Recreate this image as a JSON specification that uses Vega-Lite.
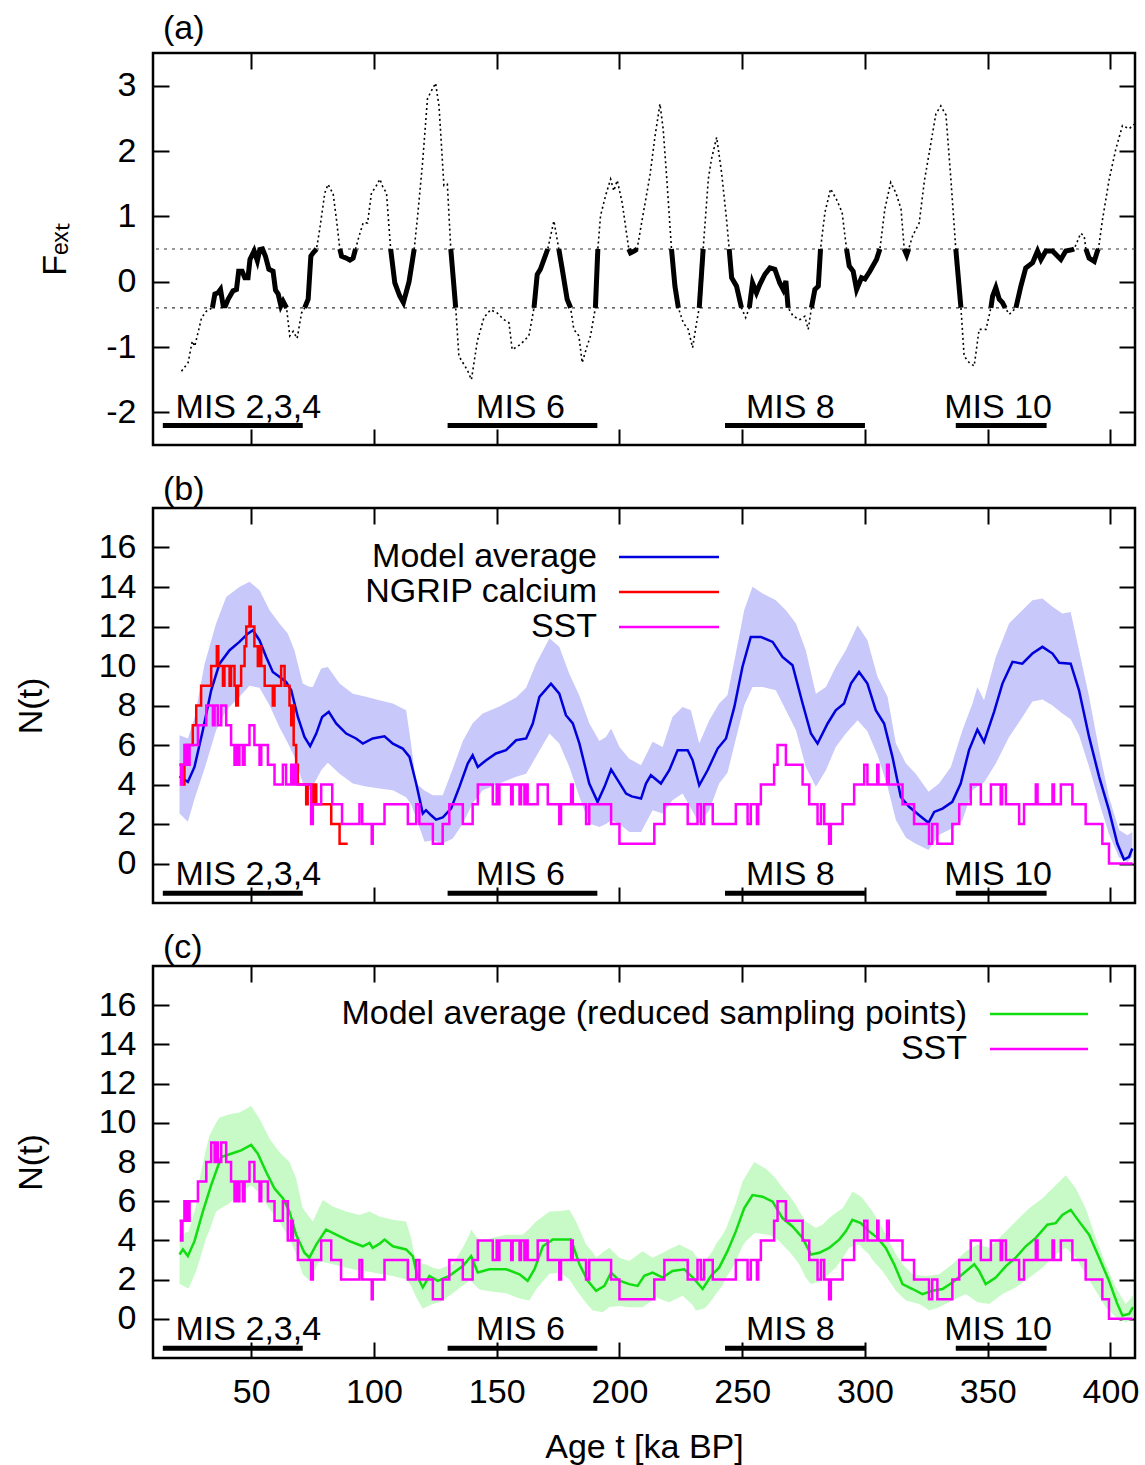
{
"$schema": "https://vega.github.io/schema/vega-lite/v6.json",
"padding": {"left": 12, "top": 10, "right": 5, "bottom": 0},
"background": "white",
"bounds": "flush",
"spacing": 63,
"config": {
  "font": "Liberation Sans",
  "view": {"stroke": "black", "strokeWidth": 2.5},
  "axis": {"domain": false, "grid": false, "tickSize": -16, "tickWidth": 2, "tickColor": "black", "labelFontSize": 34, "labelColor": "black", "titleFontSize": 34, "titleFontWeight": "normal", "titleColor": "black", "labelPadding": 33, "labelFont": "Liberation Sans", "titleFont": "Liberation Sans"},
  "title": {"fontSize": 34, "fontWeight": "normal", "anchor": "start", "frame": "group", "color": "black", "font": "Liberation Sans"},
  "text": {"font": "Liberation Sans"}
},
"datasets": {
  "levels": [{"lev": 0.5}, {"lev": -0.4}],
  "mis": [
    {"label": "MIS 2,3,4", "start": 14, "end": 71, "lx": 19.2},
    {"label": "MIS 6", "start": 130, "end": 191, "lx": 141.6},
    {"label": "MIS 8", "start": 243, "end": 300, "lx": 251.5},
    {"label": "MIS 10", "start": 337, "end": 374, "lx": 332.3}
  ],
  "fext": [
    {"t":21.6,"F":-1.37},{"t":24.3,"F":-1.24},{"t":26.0,"F":-0.91},{"t":27.0,"F":-0.99},{"t":29.8,"F":-0.55},{"t":31.8,"F":-0.45},
    {"t":34.2,"F":-0.40,"seg":1},{"t":35.2,"F":-0.19,"seg":1},{"t":36.5,"F":-0.17,"seg":1},{"t":37.5,"F":-0.12,"seg":1},{"t":38.6,"F":-0.37,"seg":1},{"t":39.5,"F":-0.37,"seg":1},{"t":40.6,"F":-0.27,"seg":1},{"t":42.6,"F":-0.14,"seg":1},{"t":44.0,"F":-0.12,"seg":1},{"t":44.9,"F":0.16,"seg":1},{"t":46.3,"F":0.16,"seg":1},{"t":47.4,"F":0.06,"seg":1},{"t":48.7,"F":0.06,"seg":1},{"t":49.5,"F":0.34,"seg":1},{"t":51.2,"F":0.47,"seg":1},{"t":52.5,"F":0.32,"seg":1},{"t":53.5,"F":0.49,"seg":1},{"t":54.6,"F":0.50,"seg":1},{"t":55.8,"F":0.39,"seg":1},{"t":57.2,"F":0.19,"seg":1},{"t":58.9,"F":0.16,"seg":1},{"t":59.9,"F":-0.13,"seg":1},{"t":61.0,"F":-0.19,"seg":1},{"t":62.1,"F":-0.37,"seg":1},{"t":63.0,"F":-0.30,"seg":1},{"t":64.4,"F":-0.40,"seg":1},
    {"t":65.7,"F":-0.83},{"t":67.1,"F":-0.76},{"t":68.7,"F":-0.87},{"t":70.5,"F":-0.48},
    {"t":71.8,"F":-0.40,"seg":2},{"t":73.2,"F":-0.27,"seg":2},{"t":74.3,"F":0.39,"seg":2},{"t":75.2,"F":0.44,"seg":2},{"t":76.6,"F":0.50,"seg":2},
    {"t":77.9,"F":0.80},{"t":80.0,"F":1.36},{"t":81.3,"F":1.49},{"t":83.4,"F":1.34},{"t":84.7,"F":0.96},
    {"t":86.1,"F":0.50,"seg":3},{"t":86.8,"F":0.39,"seg":3},{"t":88.8,"F":0.36,"seg":3},{"t":90.2,"F":0.33,"seg":3},{"t":91.5,"F":0.36,"seg":3},{"t":92.5,"F":0.50,"seg":3},
    {"t":94.2,"F":0.73},{"t":95.6,"F":0.90},{"t":97.4,"F":0.90},{"t":99.0,"F":1.36},{"t":100.6,"F":1.44},{"t":102.4,"F":1.57},{"t":103.7,"F":1.44},{"t":105.1,"F":1.36},
    {"t":106.8,"F":0.50,"seg":4},{"t":108.5,"F":-0.02,"seg":4},{"t":110.5,"F":-0.22,"seg":4},{"t":112.0,"F":-0.32,"seg":4},{"t":114.3,"F":0.0,"seg":4},{"t":116.4,"F":0.50,"seg":4},
    {"t":117.8,"F":1.01},{"t":119.8,"F":1.82},{"t":121.8,"F":2.80},{"t":123.1,"F":2.90},{"t":125.1,"F":3.04},{"t":126.5,"F":2.69},{"t":128.5,"F":1.47},{"t":129.9,"F":1.49},
    {"t":131.3,"F":0.50,"seg":5},{"t":133.3,"F":-0.40,"seg":5},
    {"t":134.6,"F":-1.14},{"t":138.0,"F":-1.35},{"t":139.7,"F":-1.50},{"t":142.1,"F":-0.91},{"t":144.8,"F":-0.55},{"t":147.5,"F":-0.43},{"t":150.2,"F":-0.48},{"t":152.9,"F":-0.58},{"t":155.0,"F":-0.63},{"t":156.3,"F":-1.04},{"t":159.7,"F":-0.96},{"t":163.1,"F":-0.83},
    {"t":165.2,"F":-0.40,"seg":6},{"t":166.5,"F":0.11,"seg":6},{"t":167.8,"F":0.19,"seg":6},{"t":170.8,"F":0.50,"seg":6},
    {"t":173.3,"F":0.93},
    {"t":175.3,"F":0.50,"seg":7},{"t":176.7,"F":0.19,"seg":7},{"t":178.7,"F":-0.27,"seg":7},{"t":180.1,"F":-0.40,"seg":7},
    {"t":181.4,"F":-0.73},{"t":183.5,"F":-0.83},{"t":184.8,"F":-1.24},{"t":186.8,"F":-0.99},{"t":188.2,"F":-0.83},
    {"t":190.2,"F":-0.40,"seg":8},{"t":191.2,"F":0.50,"seg":8},
    {"t":192.3,"F":1.01},{"t":194.3,"F":1.31},{"t":196.4,"F":1.57},{"t":197.7,"F":1.39},{"t":199.1,"F":1.55},{"t":201.1,"F":1.21},
    {"t":203.8,"F":0.50,"seg":9},{"t":204.5,"F":0.44,"seg":9},{"t":206.1,"F":0.47,"seg":9},{"t":207.2,"F":0.50,"seg":9},
    {"t":209.3,"F":0.96},{"t":212.4,"F":1.62},{"t":214.5,"F":2.23},{"t":216.5,"F":2.72},{"t":217.8,"F":2.34},{"t":219.2,"F":1.62},
    {"t":221.2,"F":0.50,"seg":10},{"t":222.6,"F":-0.07,"seg":10},{"t":224.0,"F":-0.40,"seg":10},
    {"t":226.0,"F":-0.63},{"t":228.0,"F":-0.73},{"t":229.8,"F":-1.01},{"t":231.4,"F":-0.63},
    {"t":232.5,"F":-0.40,"seg":11},{"t":234.1,"F":0.50,"seg":11},
    {"t":236.2,"F":1.57},{"t":237.5,"F":1.88},{"t":239.6,"F":2.21},{"t":241.6,"F":1.67},{"t":243.6,"F":0.96},
    {"t":244.7,"F":0.50,"seg":12},{"t":245.7,"F":0.06,"seg":12},{"t":247.7,"F":-0.07,"seg":12},{"t":249.7,"F":-0.40,"seg":12},
    {"t":251.4,"F":-0.55},
    {"t":252.9,"F":-0.40,"seg":13},{"t":254.2,"F":-0.02,"seg":13},{"t":255.8,"F":-0.17,"seg":13},{"t":257.2,"F":-0.04,"seg":13},{"t":259.2,"F":0.11,"seg":13},{"t":261.3,"F":0.21,"seg":13},{"t":263.3,"F":0.19,"seg":13},{"t":265.3,"F":-0.02,"seg":13},{"t":266.7,"F":-0.12,"seg":13},{"t":267.8,"F":0.01,"seg":13},{"t":268.7,"F":-0.40,"seg":13},
    {"t":270.8,"F":-0.53},{"t":273.5,"F":-0.58},{"t":275.5,"F":-0.53},{"t":276.9,"F":-0.73},
    {"t":278.2,"F":-0.40,"seg":14},{"t":279.6,"F":-0.12,"seg":14},{"t":281.0,"F":-0.07,"seg":14},{"t":281.9,"F":0.50,"seg":14},
    {"t":283.7,"F":1.06},{"t":286.0,"F":1.42},{"t":288.4,"F":1.26},{"t":290.7,"F":1.06},
    {"t":292.5,"F":0.50,"seg":15},{"t":293.6,"F":0.24,"seg":15},{"t":295.2,"F":0.16,"seg":15},{"t":296.6,"F":-0.12,"seg":15},{"t":298.6,"F":0.06,"seg":15},{"t":300.0,"F":0.04,"seg":15},{"t":302.0,"F":0.16,"seg":15},{"t":304.7,"F":0.34,"seg":15},{"t":306.1,"F":0.50,"seg":15},
    {"t":308.1,"F":1.11},{"t":310.5,"F":1.52},{"t":312.6,"F":1.36},{"t":314.7,"F":1.11},
    {"t":316.0,"F":0.50,"seg":16},{"t":317.0,"F":0.41,"seg":16},{"t":317.8,"F":0.50,"seg":16},
    {"t":319.4,"F":0.70},{"t":322.1,"F":0.90},{"t":324.2,"F":1.54},{"t":326.9,"F":2.13},{"t":328.9,"F":2.57},{"t":330.9,"F":2.69},{"t":333.0,"F":2.55},{"t":335.0,"F":1.57},
    {"t":337.0,"F":0.50,"seg":17},{"t":339.1,"F":-0.40,"seg":17},
    {"t":340.4,"F":-1.14},{"t":342.5,"F":-1.24},{"t":344.5,"F":-1.29},{"t":346.5,"F":-0.73},{"t":349.3,"F":-0.73},
    {"t":351.3,"F":-0.40,"seg":18},{"t":352.0,"F":-0.22,"seg":18},{"t":353.3,"F":-0.09,"seg":18},{"t":354.7,"F":-0.27,"seg":18},{"t":356.0,"F":-0.32,"seg":18},{"t":357.1,"F":-0.40,"seg":18},
    {"t":358.8,"F":-0.50},
    {"t":361.5,"F":-0.40,"seg":19},{"t":363.5,"F":-0.07,"seg":19},{"t":365.5,"F":0.21,"seg":19},{"t":368.3,"F":0.29,"seg":19},{"t":370.3,"F":0.47,"seg":19},{"t":371.7,"F":0.34,"seg":19},{"t":373.7,"F":0.47,"seg":19},{"t":376.4,"F":0.47,"seg":19},{"t":379.8,"F":0.34,"seg":19},{"t":381.8,"F":0.47,"seg":19},{"t":384.5,"F":0.49,"seg":19},{"t":385.2,"F":0.50,"seg":19},
    {"t":387.9,"F":0.74},{"t":389.3,"F":0.70},
    {"t":390.0,"F":0.50,"seg":20},{"t":391.3,"F":0.36,"seg":20},{"t":393.4,"F":0.31,"seg":20},{"t":394.7,"F":0.47,"seg":20},{"t":395.1,"F":0.50,"seg":20},
    {"t":396.8,"F":0.96},{"t":399.5,"F":1.57},{"t":402.2,"F":2.03},{"t":404.9,"F":2.39},{"t":407.6,"F":2.34},{"t":409.6,"F":2.41}
  ],
  "band_b": [
    {"t":20.8,"lo":2.53,"hi":6.5},{"t":24.2,"lo":2.11,"hi":6.33},{"t":27.0,"lo":3.3,"hi":7.4},{"t":31.0,"lo":4.8,"hi":10.1},{"t":35.7,"lo":6.75,"hi":12.15},{"t":39.8,"lo":7.76,"hi":13.5},{"t":45.2,"lo":8.44,"hi":14.0},{"t":49.3,"lo":9.0,"hi":14.26},{"t":53.4,"lo":8.9,"hi":13.84},{"t":57.5,"lo":8.0,"hi":12.82},{"t":61.5,"lo":6.9,"hi":12.15},{"t":64.9,"lo":6.1,"hi":11.64},{"t":67.6,"lo":5.4,"hi":10.8},{"t":71.0,"lo":4.1,"hi":9.11},{"t":73.7,"lo":3.71,"hi":8.95},{"t":75.1,"lo":3.9,"hi":8.94},{"t":78.5,"lo":4.72,"hi":9.87},{"t":81.2,"lo":5.1,"hi":9.95},{"t":86.0,"lo":4.55,"hi":9.11},{"t":91.4,"lo":4.05,"hi":8.6},{"t":96.8,"lo":3.9,"hi":8.44},{"t":102.2,"lo":3.8,"hi":8.27},{"t":107.7,"lo":3.71,"hi":8.1},{"t":113.1,"lo":3.35,"hi":7.76},{"t":115.1,"lo":3.0,"hi":6.07},{"t":117.2,"lo":2.3,"hi":4.05},{"t":120.6,"lo":1.1,"hi":3.7},{"t":124.0,"lo":1.18,"hi":3.45},{"t":128.0,"lo":1.01,"hi":3.45},{"t":132.1,"lo":1.26,"hi":4.8},{"t":136.2,"lo":2.02,"hi":6.2},{"t":140.2,"lo":3.04,"hi":7.1},{"t":144.3,"lo":3.71,"hi":7.6},{"t":151.1,"lo":4.05,"hi":7.95},{"t":157.9,"lo":4.39,"hi":8.4},{"t":162.0,"lo":4.55,"hi":8.9},{"t":166.0,"lo":5.4,"hi":10.12},{"t":171.5,"lo":6.58,"hi":11.4},{"t":175.5,"lo":6.07,"hi":10.97},{"t":179.6,"lo":4.89,"hi":9.6},{"t":183.7,"lo":3.37,"hi":8.5},{"t":187.7,"lo":2.02,"hi":7.1},{"t":191.8,"lo":1.85,"hi":6.2},{"t":194.5,"lo":2.0,"hi":6.41},{"t":196.6,"lo":2.19,"hi":6.83},{"t":200.0,"lo":2.0,"hi":5.9},{"t":204.0,"lo":1.6,"hi":5.3},{"t":208.8,"lo":1.6,"hi":4.98},{"t":213.5,"lo":2.7,"hi":6.16},{"t":217.6,"lo":2.53,"hi":5.9},{"t":221.6,"lo":3.2,"hi":7.42},{"t":225.7,"lo":3.54,"hi":7.93},{"t":229.1,"lo":2.8,"hi":7.76},{"t":232.5,"lo":2.02,"hi":6.07},{"t":236.6,"lo":2.7,"hi":7.25},{"t":240.6,"lo":4.05,"hi":8.1},{"t":244.0,"lo":4.6,"hi":8.52},{"t":247.4,"lo":6.3,"hi":10.63},{"t":250.8,"lo":8.0,"hi":12.82},{"t":254.2,"lo":8.94,"hi":14.01},{"t":258.3,"lo":8.94,"hi":13.67},{"t":263.7,"lo":8.77,"hi":13.33},{"t":267.8,"lo":7.76,"hi":12.82},{"t":271.9,"lo":6.75,"hi":12.15},{"t":275.9,"lo":4.89,"hi":10.8},{"t":280.0,"lo":3.88,"hi":8.6},{"t":284.1,"lo":4.72,"hi":8.94},{"t":288.1,"lo":5.9,"hi":9.95},{"t":292.2,"lo":6.58,"hi":10.8},{"t":297.0,"lo":7.25,"hi":12.06},{"t":301.0,"lo":6.7,"hi":11.3},{"t":305.1,"lo":5.5,"hi":9.45},{"t":309.2,"lo":3.9,"hi":8.44},{"t":312.6,"lo":2.2,"hi":6.07},{"t":316.7,"lo":1.3,"hi":5.06},{"t":320.7,"lo":1.0,"hi":4.55},{"t":325.9,"lo":0.68,"hi":3.63},{"t":330.2,"lo":1.45,"hi":4.05},{"t":335.0,"lo":1.75,"hi":4.89},{"t":339.7,"lo":2.19,"hi":6.75},{"t":343.8,"lo":3.71,"hi":8.1},{"t":345.8,"lo":3.9,"hi":8.94},{"t":348.5,"lo":4.1,"hi":8.27},{"t":353.3,"lo":5.06,"hi":10.46},{"t":358.7,"lo":6.4,"hi":12.15},{"t":364.1,"lo":7.4,"hi":12.82},{"t":368.2,"lo":8.2,"hi":13.33},{"t":372.3,"lo":8.3,"hi":13.42},{"t":376.4,"lo":8.0,"hi":13.0},{"t":380.4,"lo":7.59,"hi":12.66},{"t":383.8,"lo":7.3,"hi":12.74},{"t":387.2,"lo":6.5,"hi":10.8},{"t":391.3,"lo":4.9,"hi":8.44},{"t":395.4,"lo":3.1,"hi":5.74},{"t":399.4,"lo":1.5,"hi":3.37},{"t":403.5,"lo":0.3,"hi":1.69},{"t":406.9,"lo":0.08,"hi":1.43},{"t":408.9,"lo":0.34,"hi":1.6}
  ],
  "model_b": [
    {"t":20.8,"N":4.42},{"t":24.2,"N":4.13},{"t":26.9,"N":4.89},{"t":30.3,"N":6.75},{"t":33.7,"N":8.77},{"t":37.1,"N":10.12},{"t":41.2,"N":10.8},{"t":45.2,"N":11.22},{"t":48.6,"N":11.64},{"t":50.7,"N":11.81},{"t":53.4,"N":11.3},{"t":56.1,"N":10.46},{"t":58.8,"N":9.7},{"t":61.5,"N":9.45},{"t":64.2,"N":9.2},{"t":66.3,"N":8.77},{"t":69.0,"N":7.42},{"t":71.7,"N":6.41},{"t":74.0,"N":5.94},{"t":76.5,"N":6.58},{"t":78.9,"N":7.42},{"t":81.6,"N":7.68},{"t":84.6,"N":7.09},{"t":88.7,"N":6.58},{"t":92.7,"N":6.33},{"t":95.5,"N":6.07},{"t":99.5,"N":6.33},{"t":104.3,"N":6.44},{"t":107.7,"N":6.07},{"t":111.7,"N":5.82},{"t":114.5,"N":5.4},{"t":117.2,"N":4.05},{"t":119.9,"N":2.53},{"t":121.2,"N":2.7},{"t":123.3,"N":2.44},{"t":125.3,"N":2.22},{"t":128.0,"N":2.33},{"t":131.4,"N":2.78},{"t":134.8,"N":3.88},{"t":138.2,"N":5.06},{"t":140.2,"N":5.48},{"t":142.3,"N":4.89},{"t":145.7,"N":5.23},{"t":149.7,"N":5.57},{"t":153.8,"N":5.74},{"t":157.9,"N":6.24},{"t":162.0,"N":6.33},{"t":164.7,"N":7.09},{"t":167.4,"N":8.44},{"t":172.1,"N":9.11},{"t":175.5,"N":8.6},{"t":178.2,"N":7.51},{"t":181.0,"N":7.09},{"t":183.7,"N":6.07},{"t":187.7,"N":4.05},{"t":191.1,"N":3.12},{"t":193.9,"N":3.88},{"t":196.6,"N":4.76},{"t":199.3,"N":4.22},{"t":202.7,"N":3.54},{"t":205.0,"N":3.4},{"t":208.8,"N":3.29},{"t":210.8,"N":4.05},{"t":212.8,"N":4.47},{"t":216.9,"N":4.05},{"t":220.3,"N":4.72},{"t":223.7,"N":5.74},{"t":227.8,"N":5.74},{"t":229.8,"N":5.23},{"t":232.5,"N":3.96},{"t":235.9,"N":4.72},{"t":240.0,"N":5.82},{"t":243.4,"N":6.33},{"t":246.8,"N":7.93},{"t":250.1,"N":9.95},{"t":253.5,"N":11.47},{"t":257.6,"N":11.47},{"t":262.4,"N":11.22},{"t":266.4,"N":10.46},{"t":270.5,"N":10.04},{"t":274.6,"N":8.1},{"t":278.0,"N":6.58},{"t":280.7,"N":6.07},{"t":284.8,"N":7.09},{"t":288.1,"N":7.76},{"t":291.5,"N":8.1},{"t":294.3,"N":9.11},{"t":297.6,"N":9.7},{"t":301.0,"N":9.11},{"t":304.4,"N":7.76},{"t":307.8,"N":7.09},{"t":311.2,"N":5.4},{"t":314.6,"N":3.37},{"t":318.0,"N":2.87},{"t":322.1,"N":2.44},{"t":325.9,"N":2.06},{"t":328.2,"N":2.61},{"t":331.6,"N":2.78},{"t":335.6,"N":3.12},{"t":339.0,"N":4.05},{"t":342.4,"N":5.74},{"t":345.8,"N":6.78},{"t":348.5,"N":6.16},{"t":352.6,"N":7.68},{"t":356.0,"N":9.11},{"t":360.1,"N":10.21},{"t":364.1,"N":10.12},{"t":368.2,"N":10.63},{"t":372.3,"N":10.97},{"t":376.4,"N":10.63},{"t":379.1,"N":10.16},{"t":383.8,"N":10.12},{"t":387.2,"N":8.77},{"t":391.3,"N":6.41},{"t":395.4,"N":4.39},{"t":399.4,"N":2.7},{"t":402.8,"N":1.01},{"t":405.5,"N":0.2},{"t":407.6,"N":0.34},{"t":408.9,"N":0.76}
  ],
  "ngrip": [
    {"t":20.8,"N":5},{"t":22.2,"N":4},{"t":22.8,"N":5},{"t":23.5,"N":6},{"t":26.2,"N":7},{"t":27.6,"N":8},{"t":29.6,"N":9},{"t":33.7,"N":10},{"t":36.0,"N":11},{"t":36.6,"N":10},{"t":38.5,"N":9},{"t":39.1,"N":10},{"t":41.2,"N":9},{"t":41.8,"N":10},{"t":43.2,"N":9},{"t":43.9,"N":8},{"t":44.6,"N":9},{"t":45.9,"N":10},{"t":47.3,"N":11},{"t":48.0,"N":12},{"t":49.3,"N":13},{"t":49.8,"N":12},{"t":51.3,"N":11},{"t":52.7,"N":10},{"t":53.4,"N":11},{"t":54.1,"N":10},{"t":55.5,"N":9},{"t":58.8,"N":8},{"t":59.5,"N":9},{"t":62.2,"N":10},{"t":63.6,"N":9},{"t":65.6,"N":8},{"t":66.3,"N":7},{"t":66.8,"N":8},{"t":67.3,"N":6},{"t":68.3,"N":5},{"t":69.0,"N":4},{"t":72.4,"N":3},{"t":73.0,"N":4},{"t":75.1,"N":3},{"t":75.8,"N":4},{"t":76.5,"N":3},{"t":82.6,"N":2},{"t":86.0,"N":1},{"t":89.3,"N":1}
  ],
  "sst_b": [
    {"t":20.8,"N":5},{"t":21.4,"N":4},{"t":22.0,"N":5},{"t":22.8,"N":6},{"t":23.3,"N":5},{"t":23.8,"N":6},{"t":24.4,"N":5},{"t":24.9,"N":6},{"t":28.3,"N":7},{"t":31.7,"N":8},{"t":34.4,"N":7},{"t":35.1,"N":8},{"t":36.4,"N":7},{"t":37.8,"N":8},{"t":39.8,"N":7},{"t":41.8,"N":6},{"t":43.2,"N":5},{"t":43.9,"N":6},{"t":44.6,"N":5},{"t":45.2,"N":6},{"t":46.6,"N":5},{"t":47.3,"N":6},{"t":49.3,"N":7},{"t":51.3,"N":6},{"t":53.4,"N":5},{"t":54.1,"N":6},{"t":56.8,"N":5},{"t":59.5,"N":4},{"t":62.9,"N":5},{"t":64.2,"N":4},{"t":66.3,"N":5},{"t":67.0,"N":4},{"t":67.6,"N":5},{"t":68.3,"N":4},{"t":74.4,"N":2},{"t":75.1,"N":3},{"t":78.5,"N":4},{"t":83.0,"N":3},{"t":87.0,"N":2},{"t":94.1,"N":3},{"t":95.2,"N":2},{"t":99.1,"N":1},{"t":99.5,"N":2},{"t":104.3,"N":3},{"t":113.8,"N":2},{"t":117.2,"N":3},{"t":118.5,"N":2},{"t":124.0,"N":1},{"t":128.0,"N":2},{"t":130.7,"N":3},{"t":136.2,"N":2},{"t":140.2,"N":3},{"t":142.3,"N":4},{"t":148.4,"N":3},{"t":150.0,"N":4},{"t":150.6,"N":3},{"t":151.1,"N":4},{"t":155.9,"N":3},{"t":156.5,"N":4},{"t":159.3,"N":3},{"t":159.9,"N":4},{"t":161.3,"N":3},{"t":162.0,"N":4},{"t":162.6,"N":3},{"t":166.7,"N":4},{"t":170.8,"N":3},{"t":175.5,"N":2},{"t":176.2,"N":3},{"t":180.3,"N":4},{"t":181.0,"N":3},{"t":186.4,"N":2},{"t":187.7,"N":3},{"t":196.6,"N":2},{"t":200.0,"N":1},{"t":214.2,"N":2},{"t":218.3,"N":3},{"t":227.8,"N":2},{"t":231.8,"N":3},{"t":233.2,"N":2},{"t":234.5,"N":3},{"t":238.0,"N":2},{"t":247.4,"N":3},{"t":252.2,"N":2},{"t":253.5,"N":3},{"t":256.0,"N":2},{"t":256.5,"N":3},{"t":257.6,"N":4},{"t":263.0,"N":5},{"t":264.4,"N":6},{"t":267.8,"N":5},{"t":274.6,"N":4},{"t":277.3,"N":3},{"t":280.7,"N":2},{"t":282.1,"N":3},{"t":283.4,"N":2},{"t":285.4,"N":1},{"t":286.1,"N":2},{"t":290.9,"N":3},{"t":295.6,"N":4},{"t":299.7,"N":5},{"t":301.0,"N":4},{"t":305.0,"N":5},{"t":305.5,"N":4},{"t":309.0,"N":5},{"t":309.7,"N":4},{"t":315.3,"N":3},{"t":320.0,"N":2},{"t":326.1,"N":1},{"t":327.4,"N":2},{"t":329.5,"N":1},{"t":335.6,"N":2},{"t":338.4,"N":3},{"t":343.1,"N":4},{"t":347.2,"N":3},{"t":351.3,"N":4},{"t":355.3,"N":3},{"t":355.9,"N":4},{"t":357.4,"N":3},{"t":362.8,"N":2},{"t":364.8,"N":3},{"t":369.6,"N":4},{"t":370.3,"N":3},{"t":376.4,"N":4},{"t":377.0,"N":3},{"t":379.8,"N":4},{"t":384.5,"N":3},{"t":389.9,"N":2},{"t":396.7,"N":1},{"t":399.4,"N":0},{"t":409.0,"N":0}
  ],
  "band_c": [
    {"t":20.8,"lo":1.77,"hi":4.29},{"t":24.5,"lo":1.55,"hi":4.45},{"t":27.6,"lo":2.44,"hi":5.8},{"t":29.0,"lo":3.0,"hi":7.16},{"t":31.7,"lo":4.13,"hi":8.7},{"t":33.0,"lo":4.5,"hi":9.34},{"t":35.7,"lo":5.47,"hi":10.0},{"t":37.1,"lo":5.6,"hi":10.27},{"t":41.2,"lo":5.9,"hi":10.44},{"t":45.2,"lo":6.4,"hi":10.52},{"t":50.0,"lo":6.82,"hi":10.86},{"t":53.4,"lo":6.4,"hi":10.19},{"t":57.5,"lo":5.6,"hi":9.18},{"t":61.5,"lo":4.95,"hi":8.5},{"t":65.6,"lo":4.1,"hi":8.0},{"t":68.3,"lo":3.3,"hi":7.16},{"t":71.0,"lo":2.27,"hi":5.64},{"t":73.7,"lo":1.94,"hi":5.2},{"t":75.1,"lo":2.3,"hi":4.97},{"t":77.8,"lo":2.95,"hi":5.7},{"t":79.2,"lo":2.9,"hi":6.06},{"t":83.2,"lo":2.78,"hi":5.73},{"t":88.7,"lo":2.6,"hi":5.47},{"t":94.1,"lo":2.45,"hi":5.3},{"t":98.2,"lo":2.4,"hi":5.47},{"t":102.2,"lo":2.3,"hi":5.22},{"t":107.7,"lo":2.19,"hi":5.05},{"t":113.1,"lo":2.0,"hi":4.97},{"t":115.1,"lo":1.7,"hi":4.13},{"t":117.2,"lo":1.1,"hi":2.78},{"t":119.9,"lo":0.51,"hi":2.78},{"t":121.2,"lo":0.6,"hi":2.78},{"t":124.0,"lo":0.76,"hi":2.6},{"t":126.7,"lo":0.85,"hi":2.53},{"t":128.0,"lo":0.93,"hi":2.6},{"t":132.1,"lo":1.3,"hi":2.78},{"t":136.2,"lo":1.7,"hi":3.62},{"t":138.9,"lo":1.94,"hi":4.3},{"t":139.6,"lo":1.9,"hi":4.55},{"t":143.0,"lo":1.5,"hi":3.96},{"t":148.4,"lo":1.38,"hi":4.13},{"t":153.8,"lo":1.3,"hi":4.29},{"t":157.9,"lo":1.1,"hi":4.29},{"t":160.6,"lo":1.0,"hi":4.29},{"t":163.3,"lo":0.93,"hi":4.6},{"t":166.0,"lo":1.5,"hi":4.97},{"t":171.5,"lo":2.3,"hi":5.47},{"t":176.0,"lo":2.35,"hi":5.5},{"t":179.6,"lo":2.0,"hi":5.56},{"t":182.3,"lo":1.5,"hi":4.97},{"t":186.4,"lo":0.8,"hi":3.79},{"t":189.1,"lo":0.42,"hi":3.4},{"t":190.5,"lo":0.4,"hi":3.12},{"t":193.2,"lo":0.34,"hi":3.4},{"t":195.9,"lo":0.6,"hi":3.62},{"t":200.0,"lo":0.65,"hi":3.12},{"t":204.0,"lo":0.59,"hi":2.95},{"t":209.4,"lo":0.59,"hi":3.45},{"t":213.5,"lo":0.95,"hi":3.12},{"t":214.9,"lo":1.1,"hi":3.2},{"t":218.9,"lo":0.9,"hi":3.45},{"t":220.3,"lo":0.84,"hi":3.55},{"t":224.4,"lo":1.1,"hi":3.79},{"t":225.7,"lo":1.18,"hi":3.7},{"t":229.8,"lo":0.7,"hi":3.45},{"t":231.1,"lo":0.42,"hi":3.2},{"t":233.9,"lo":0.5,"hi":2.78},{"t":235.2,"lo":0.59,"hi":3.0},{"t":237.9,"lo":1.0,"hi":3.45},{"t":239.3,"lo":1.26,"hi":3.8},{"t":242.0,"lo":1.7,"hi":4.29},{"t":243.4,"lo":2.1,"hi":4.6},{"t":246.1,"lo":2.6,"hi":5.47},{"t":247.4,"lo":2.95,"hi":5.9},{"t":250.1,"lo":3.7,"hi":6.99},{"t":251.5,"lo":3.96,"hi":7.3},{"t":254.9,"lo":4.35,"hi":8.0},{"t":255.6,"lo":4.38,"hi":7.95},{"t":259.6,"lo":4.3,"hi":7.66},{"t":261.0,"lo":4.29,"hi":7.5},{"t":263.7,"lo":4.1,"hi":7.16},{"t":265.1,"lo":3.96,"hi":6.9},{"t":267.8,"lo":3.6,"hi":6.48},{"t":269.1,"lo":3.45,"hi":6.3},{"t":271.9,"lo":3.0,"hi":5.81},{"t":273.2,"lo":2.78,"hi":5.5},{"t":275.9,"lo":2.1,"hi":4.97},{"t":278.0,"lo":1.77,"hi":4.8},{"t":280.0,"lo":1.85,"hi":4.63},{"t":282.7,"lo":1.94,"hi":4.8},{"t":285.4,"lo":2.3,"hi":5.14},{"t":288.1,"lo":2.61,"hi":5.4},{"t":290.9,"lo":3.1,"hi":5.64},{"t":293.6,"lo":3.62,"hi":6.2},{"t":294.9,"lo":3.7,"hi":6.48},{"t":297.6,"lo":3.79,"hi":6.3},{"t":299.0,"lo":3.6,"hi":6.15},{"t":301.7,"lo":3.28,"hi":5.7},{"t":303.1,"lo":3.0,"hi":5.47},{"t":307.1,"lo":2.44,"hi":4.63},{"t":311.2,"lo":1.7,"hi":3.62},{"t":312.6,"lo":1.43,"hi":3.3},{"t":315.3,"lo":1.1,"hi":2.78},{"t":316.7,"lo":0.93,"hi":2.6},{"t":319.4,"lo":0.85,"hi":2.27},{"t":322.1,"lo":0.76,"hi":2.22},{"t":324.8,"lo":0.55,"hi":2.19},{"t":326.1,"lo":0.42,"hi":2.2},{"t":330.2,"lo":0.59,"hi":2.27},{"t":335.6,"lo":0.93,"hi":2.78},{"t":341.1,"lo":1.26,"hi":3.45},{"t":345.8,"lo":0.84,"hi":3.79},{"t":350.6,"lo":0.76,"hi":3.62},{"t":356.0,"lo":1.26,"hi":4.29},{"t":361.4,"lo":1.6,"hi":4.97},{"t":366.9,"lo":2.1,"hi":5.64},{"t":372.3,"lo":2.61,"hi":6.15},{"t":377.7,"lo":3.28,"hi":6.82},{"t":381.8,"lo":3.62,"hi":7.32},{"t":385.9,"lo":3.12,"hi":6.65},{"t":389.9,"lo":2.27,"hi":5.64},{"t":394.0,"lo":1.43,"hi":4.13},{"t":398.1,"lo":0.59,"hi":2.78},{"t":402.2,"lo":0.08,"hi":1.6},{"t":406.2,"lo":-0.17,"hi":0.76},{"t":409.2,"lo":0.0,"hi":1.18}
  ],
  "model_c": [
    {"t":20.8,"N":3.28},{"t":22.2,"N":3.54},{"t":24.2,"N":3.2},{"t":26.9,"N":3.96},{"t":30.3,"N":5.47},{"t":33.7,"N":6.82},{"t":37.8,"N":8.25},{"t":41.8,"N":8.42},{"t":45.9,"N":8.59},{"t":50.0,"N":8.87},{"t":52.7,"N":8.42},{"t":56.1,"N":7.49},{"t":59.5,"N":6.65},{"t":62.9,"N":6.15},{"t":65.6,"N":5.47},{"t":68.3,"N":4.29},{"t":71.7,"N":3.37},{"t":73.7,"N":3.12},{"t":76.5,"N":3.79},{"t":80.5,"N":4.55},{"t":84.6,"N":4.29},{"t":90.0,"N":3.96},{"t":95.5,"N":3.7},{"t":98.2,"N":3.87},{"t":99.5,"N":3.62},{"t":102.2,"N":3.82},{"t":104.3,"N":4.04},{"t":107.7,"N":3.7},{"t":113.1,"N":3.54},{"t":115.8,"N":3.2},{"t":117.9,"N":2.1},{"t":119.9,"N":1.6},{"t":122.6,"N":2.19},{"t":126.0,"N":1.94},{"t":130.7,"N":2.19},{"t":136.2,"N":2.69},{"t":139.6,"N":3.2},{"t":142.3,"N":2.36},{"t":147.0,"N":2.53},{"t":153.8,"N":2.53},{"t":159.3,"N":2.27},{"t":162.6,"N":1.94},{"t":165.4,"N":2.53},{"t":168.8,"N":3.7},{"t":172.8,"N":4.04},{"t":176.9,"N":4.04},{"t":180.3,"N":4.04},{"t":183.7,"N":2.78},{"t":187.1,"N":1.94},{"t":190.5,"N":1.43},{"t":193.9,"N":1.68},{"t":196.6,"N":2.36},{"t":200.0,"N":1.94},{"t":204.0,"N":1.77},{"t":207.4,"N":1.68},{"t":210.1,"N":2.19},{"t":213.5,"N":2.36},{"t":217.6,"N":2.1},{"t":221.6,"N":2.44},{"t":226.4,"N":2.53},{"t":230.5,"N":2.02},{"t":233.9,"N":1.52},{"t":237.3,"N":2.19},{"t":240.6,"N":2.61},{"t":244.0,"N":3.45},{"t":247.4,"N":4.46},{"t":250.8,"N":5.64},{"t":254.2,"N":6.31},{"t":258.3,"N":6.23},{"t":262.4,"N":5.98},{"t":266.4,"N":5.14},{"t":270.5,"N":4.71},{"t":274.6,"N":4.13},{"t":278.0,"N":3.28},{"t":281.4,"N":3.37},{"t":285.4,"N":3.62},{"t":289.5,"N":4.04},{"t":292.2,"N":4.46},{"t":294.9,"N":5.05},{"t":298.3,"N":4.88},{"t":301.7,"N":4.46},{"t":305.1,"N":4.13},{"t":308.5,"N":3.62},{"t":311.9,"N":2.78},{"t":315.3,"N":1.77},{"t":319.4,"N":1.52},{"t":323.4,"N":1.26},{"t":327.5,"N":1.43},{"t":331.6,"N":1.52},{"t":335.6,"N":1.85},{"t":339.7,"N":2.27},{"t":344.5,"N":2.78},{"t":346.5,"N":2.44},{"t":349.2,"N":1.77},{"t":353.3,"N":2.1},{"t":357.4,"N":2.69},{"t":361.4,"N":3.12},{"t":365.5,"N":3.7},{"t":369.6,"N":4.13},{"t":374.3,"N":4.8},{"t":377.7,"N":4.88},{"t":380.4,"N":5.3},{"t":383.8,"N":5.56},{"t":387.2,"N":4.97},{"t":391.3,"N":4.29},{"t":395.4,"N":3.12},{"t":399.4,"N":1.94},{"t":402.8,"N":0.76},{"t":404.9,"N":0.17},{"t":407.6,"N":0.25},{"t":409.2,"N":0.59}
  ],
  "sst_c": [
    {"t":20.8,"N":5},{"t":21.4,"N":4},{"t":22.0,"N":5},{"t":22.8,"N":6},{"t":23.3,"N":5},{"t":23.8,"N":6},{"t":24.4,"N":5},{"t":24.9,"N":6},{"t":28.3,"N":7},{"t":31.7,"N":8},{"t":33.7,"N":9},{"t":35.1,"N":8},{"t":35.7,"N":9},{"t":36.4,"N":8},{"t":37.8,"N":9},{"t":39.8,"N":8},{"t":41.8,"N":7},{"t":43.2,"N":6},{"t":43.9,"N":7},{"t":44.6,"N":6},{"t":45.2,"N":7},{"t":46.6,"N":6},{"t":47.3,"N":7},{"t":49.3,"N":8},{"t":51.3,"N":7},{"t":53.4,"N":6},{"t":54.1,"N":7},{"t":56.8,"N":6},{"t":59.5,"N":5},{"t":62.9,"N":6},{"t":64.9,"N":4},{"t":66.3,"N":5},{"t":67.0,"N":4},{"t":69.0,"N":3},{"t":74.4,"N":2},{"t":75.1,"N":3},{"t":78.5,"N":4},{"t":82.6,"N":3},{"t":86.6,"N":2},{"t":94.1,"N":3},{"t":95.2,"N":2},{"t":99.1,"N":1},{"t":99.5,"N":2},{"t":104.3,"N":3},{"t":113.8,"N":2},{"t":117.2,"N":3},{"t":118.5,"N":2},{"t":124.0,"N":1},{"t":128.0,"N":2},{"t":130.7,"N":3},{"t":136.2,"N":2},{"t":140.2,"N":3},{"t":142.3,"N":4},{"t":148.4,"N":3},{"t":150.0,"N":4},{"t":150.6,"N":3},{"t":151.1,"N":4},{"t":155.9,"N":3},{"t":156.5,"N":4},{"t":159.3,"N":3},{"t":159.9,"N":4},{"t":161.3,"N":3},{"t":162.0,"N":4},{"t":162.6,"N":3},{"t":166.7,"N":4},{"t":170.8,"N":3},{"t":175.5,"N":2},{"t":176.2,"N":3},{"t":180.3,"N":4},{"t":181.0,"N":3},{"t":186.4,"N":2},{"t":187.7,"N":3},{"t":196.6,"N":2},{"t":200.0,"N":1},{"t":214.2,"N":2},{"t":218.3,"N":3},{"t":227.8,"N":2},{"t":231.8,"N":3},{"t":233.2,"N":2},{"t":234.5,"N":3},{"t":238.0,"N":2},{"t":247.4,"N":3},{"t":252.2,"N":2},{"t":253.5,"N":3},{"t":256.0,"N":2},{"t":256.5,"N":3},{"t":257.6,"N":4},{"t":263.0,"N":5},{"t":264.4,"N":6},{"t":267.8,"N":5},{"t":274.6,"N":4},{"t":277.3,"N":3},{"t":280.7,"N":2},{"t":282.1,"N":3},{"t":283.4,"N":2},{"t":285.4,"N":1},{"t":286.1,"N":2},{"t":290.9,"N":3},{"t":295.6,"N":4},{"t":299.7,"N":5},{"t":301.0,"N":4},{"t":305.0,"N":5},{"t":305.5,"N":4},{"t":309.0,"N":5},{"t":309.7,"N":4},{"t":315.3,"N":3},{"t":320.0,"N":2},{"t":326.1,"N":1},{"t":327.4,"N":2},{"t":329.5,"N":1},{"t":335.6,"N":2},{"t":338.4,"N":3},{"t":343.1,"N":4},{"t":347.2,"N":3},{"t":351.3,"N":4},{"t":355.3,"N":3},{"t":355.9,"N":4},{"t":357.4,"N":3},{"t":362.8,"N":2},{"t":364.8,"N":3},{"t":369.6,"N":4},{"t":370.3,"N":3},{"t":376.4,"N":4},{"t":377.0,"N":3},{"t":379.8,"N":4},{"t":384.5,"N":3},{"t":389.9,"N":2},{"t":396.7,"N":1},{"t":399.4,"N":0},{"t":409.0,"N":0}
  ]
},
"vconcat": [
  {
    "width": 982, "height": 392,
    "title": {"text": "(a)", "dx": 10, "offset": 6},
    "layer": [
      {"data": {"name": "levels"}, "mark": {"type": "rule", "strokeDash": [3, 5], "strokeWidth": 1.2, "color": "#333333"},
       "encoding": {"y": {"field": "lev", "type": "quantitative", "scale": {"domain": [-2.5, 3.5], "nice": false, "zero": false}, "axis": null}}},
      {"data": {"name": "fext"}, "mark": {"type": "line", "strokeDash": [2, 3], "strokeWidth": 1.6, "color": "black"},
       "encoding": {
         "x": {"field": "t", "type": "quantitative", "scale": {"domain": [10, 410], "nice": false, "zero": false}, "axis": {"orient": "bottom", "values": [50,100,150,200,250,300,350,400], "labels": false, "title": null}},
         "y": {"field": "F", "type": "quantitative", "scale": {"domain": [-2.5, 3.5], "nice": false, "zero": false}, "axis": {"orient": "left", "values": [-2,-1,0,1,2,3], "labelExpr": "datum.value", "title": "Fₑₓₜ", "titlePadding": 33}}}},
      {"data": {"name": "fext"}, "transform": [{"filter": {"field": "seg", "valid": true}}], "mark": {"type": "line", "strokeWidth": 5, "color": "black"},
       "encoding": {
         "x": {"field": "t", "type": "quantitative", "scale": {"domain": [10, 410], "nice": false, "zero": false}, "axis": null},
         "y": {"field": "F", "type": "quantitative", "scale": {"domain": [-2.5, 3.5], "nice": false, "zero": false}, "axis": null},
         "detail": {"field": "seg", "type": "nominal"}}},
      {"data": {"name": "mis"}, "mark": {"type": "rule", "strokeWidth": 5, "color": "black"},
       "encoding": {
         "x": {"field": "start", "type": "quantitative", "scale": {"domain": [10, 410], "nice": false, "zero": false}, "axis": {"orient": "top", "values": [50,100,150,200,250,300,350,400], "labels": false, "title": null}},
         "x2": {"field": "end"},
         "y": {"datum": -2.2, "type": "quantitative", "scale": {"domain": [-2.5, 3.5], "nice": false, "zero": false}, "axis": {"orient": "right", "values": [-2,-1,0,1,2,3], "labels": false, "title": null}}}},
      {"data": {"name": "mis"}, "mark": {"type": "text", "align": "left", "baseline": "alphabetic", "fontSize": 34, "color": "black"},
       "encoding": {
         "x": {"field": "lx", "type": "quantitative", "scale": {"domain": [10, 410], "nice": false, "zero": false}, "axis": null},
         "y": {"datum": -2.08, "type": "quantitative", "scale": {"domain": [-2.5, 3.5], "nice": false, "zero": false}, "axis": null},
         "text": {"field": "label"}}}
    ],
    "resolve": {"axis": {"x": "independent", "y": "independent"}}
  },
  {
    "width": 982, "height": 395,
    "title": {"text": "(b)", "dx": 10, "offset": 0},
    "layer": [
      {"data": {"name": "band_b"}, "mark": {"type": "area", "color": "#c8c8fa", "opacity": 1},
       "encoding": {
         "x": {"field": "t", "type": "quantitative", "scale": {"domain": [10, 410], "nice": false, "zero": false}, "axis": {"orient": "bottom", "values": [50,100,150,200,250,300,350,400], "labels": false, "title": null}},
         "y": {"field": "lo", "type": "quantitative", "scale": {"domain": [-2, 18], "nice": false, "zero": false}, "axis": {"orient": "left", "values": [0,2,4,6,8,10,12,14,16], "title": "N(t)", "titlePadding": 50}},
         "y2": {"field": "hi"}}},
      {"data": {"name": "model_b"}, "mark": {"type": "line", "strokeWidth": 2.5},
       "encoding": {
         "x": {"field": "t", "type": "quantitative", "scale": {"domain": [10, 410], "nice": false, "zero": false}, "axis": null},
         "y": {"field": "N", "type": "quantitative", "scale": {"domain": [-2, 18], "nice": false, "zero": false}, "axis": null},
         "color": {"datum": "Model average", "type": "nominal", "scale": {"domain": ["Model average", "NGRIP calcium", "SST"], "range": ["#0000dc", "#ff0000", "#ff00ff"]},
           "legend": {"orient": "none", "legendX": 499, "legendY": 32, "title": null, "labelFontSize": 34, "labelFont": "Liberation Sans", "labelColor": "black", "labelAlign": "right", "labelOffset": -89, "labelLimit": 0, "symbolType": "M-4,0H4", "symbolSize": 625, "symbolStrokeWidth": 2.5, "rowPadding": 1}}}},
      {"data": {"name": "ngrip"}, "mark": {"type": "line", "interpolate": "step-after", "strokeWidth": 2.5},
       "encoding": {
         "x": {"field": "t", "type": "quantitative", "scale": {"domain": [10, 410], "nice": false, "zero": false}, "axis": null},
         "y": {"field": "N", "type": "quantitative", "scale": {"domain": [-2, 18], "nice": false, "zero": false}, "axis": null},
         "color": {"datum": "NGRIP calcium", "type": "nominal", "scale": {"domain": ["Model average", "NGRIP calcium", "SST"], "range": ["#0000dc", "#ff0000", "#ff00ff"]}}}},
      {"data": {"name": "sst_b"}, "mark": {"type": "line", "interpolate": "step-after", "strokeWidth": 2.5},
       "encoding": {
         "x": {"field": "t", "type": "quantitative", "scale": {"domain": [10, 410], "nice": false, "zero": false}, "axis": null},
         "y": {"field": "N", "type": "quantitative", "scale": {"domain": [-2, 18], "nice": false, "zero": false}, "axis": null},
         "color": {"datum": "SST", "type": "nominal", "scale": {"domain": ["Model average", "NGRIP calcium", "SST"], "range": ["#0000dc", "#ff0000", "#ff00ff"]}}}},
      {"data": {"name": "mis"}, "mark": {"type": "rule", "strokeWidth": 5, "color": "black"},
       "encoding": {
         "x": {"field": "start", "type": "quantitative", "scale": {"domain": [10, 410], "nice": false, "zero": false}, "axis": {"orient": "top", "values": [50,100,150,200,250,300,350,400], "labels": false, "title": null}},
         "x2": {"field": "end"},
         "y": {"datum": -1.5, "type": "quantitative", "scale": {"domain": [-2, 18], "nice": false, "zero": false}, "axis": {"orient": "right", "values": [0,2,4,6,8,10,12,14,16], "labels": false, "title": null}}}},
      {"data": {"name": "mis"}, "mark": {"type": "text", "align": "left", "baseline": "alphabetic", "fontSize": 34, "color": "black"},
       "encoding": {
         "x": {"field": "lx", "type": "quantitative", "scale": {"domain": [10, 410], "nice": false, "zero": false}, "axis": null},
         "y": {"datum": -1.1, "type": "quantitative", "scale": {"domain": [-2, 18], "nice": false, "zero": false}, "axis": null},
         "text": {"field": "label"}}}
    ],
    "resolve": {"axis": {"x": "independent", "y": "independent"}}
  },
  {
    "width": 982, "height": 392,
    "title": {"text": "(c)", "dx": 10, "offset": 0},
    "layer": [
      {"data": {"name": "band_c"}, "mark": {"type": "area", "color": "#c8fac8", "opacity": 1},
       "encoding": {
         "x": {"field": "t", "type": "quantitative", "scale": {"domain": [10, 410], "nice": false, "zero": false}, "axis": {"orient": "bottom", "values": [50,100,150,200,250,300,350,400], "title": "Age t [ka BP]", "labelPadding": 33, "titlePadding": 21}},
         "y": {"field": "lo", "type": "quantitative", "scale": {"domain": [-2, 18], "nice": false, "zero": false}, "axis": {"orient": "left", "values": [0,2,4,6,8,10,12,14,16], "title": "N(t)", "titlePadding": 50}},
         "y2": {"field": "hi"}}},
      {"data": {"name": "model_c"}, "mark": {"type": "line", "strokeWidth": 2.5},
       "encoding": {
         "x": {"field": "t", "type": "quantitative", "scale": {"domain": [10, 410], "nice": false, "zero": false}, "axis": null},
         "y": {"field": "N", "type": "quantitative", "scale": {"domain": [-2, 18], "nice": false, "zero": false}, "axis": null},
         "color": {"datum": "Model average (reduced sampling points)", "type": "nominal", "scale": {"domain": ["Model average (reduced sampling points)", "SST"], "range": ["#11dd11", "#ff00ff"]},
           "legend": {"orient": "none", "legendX": 869, "legendY": 31, "title": null, "labelFontSize": 34, "labelFont": "Liberation Sans", "labelColor": "black", "labelAlign": "right", "labelOffset": -89, "labelLimit": 0, "symbolType": "M-4,0H4", "symbolSize": 600, "symbolStrokeWidth": 2.5, "rowPadding": 1}}}},
      {"data": {"name": "sst_c"}, "mark": {"type": "line", "interpolate": "step-after", "strokeWidth": 2.5},
       "encoding": {
         "x": {"field": "t", "type": "quantitative", "scale": {"domain": [10, 410], "nice": false, "zero": false}, "axis": null},
         "y": {"field": "N", "type": "quantitative", "scale": {"domain": [-2, 18], "nice": false, "zero": false}, "axis": null},
         "color": {"datum": "SST", "type": "nominal", "scale": {"domain": ["Model average (reduced sampling points)", "SST"], "range": ["#11dd11", "#ff00ff"]}}}},
      {"data": {"name": "mis"}, "mark": {"type": "rule", "strokeWidth": 5, "color": "black"},
       "encoding": {
         "x": {"field": "start", "type": "quantitative", "scale": {"domain": [10, 410], "nice": false, "zero": false}, "axis": {"orient": "top", "values": [50,100,150,200,250,300,350,400], "labels": false, "title": null}},
         "x2": {"field": "end"},
         "y": {"datum": -1.5, "type": "quantitative", "scale": {"domain": [-2, 18], "nice": false, "zero": false}, "axis": {"orient": "right", "values": [0,2,4,6,8,10,12,14,16], "labels": false, "title": null}}}},
      {"data": {"name": "mis"}, "mark": {"type": "text", "align": "left", "baseline": "alphabetic", "fontSize": 34, "color": "black"},
       "encoding": {
         "x": {"field": "lx", "type": "quantitative", "scale": {"domain": [10, 410], "nice": false, "zero": false}, "axis": null},
         "y": {"datum": -1.1, "type": "quantitative", "scale": {"domain": [-2, 18], "nice": false, "zero": false}, "axis": null},
         "text": {"field": "label"}}}
    ],
    "resolve": {"axis": {"x": "independent", "y": "independent"}}
  }
],
"resolve": {"scale": {"color": "independent"}, "legend": {"color": "independent"}}
}
